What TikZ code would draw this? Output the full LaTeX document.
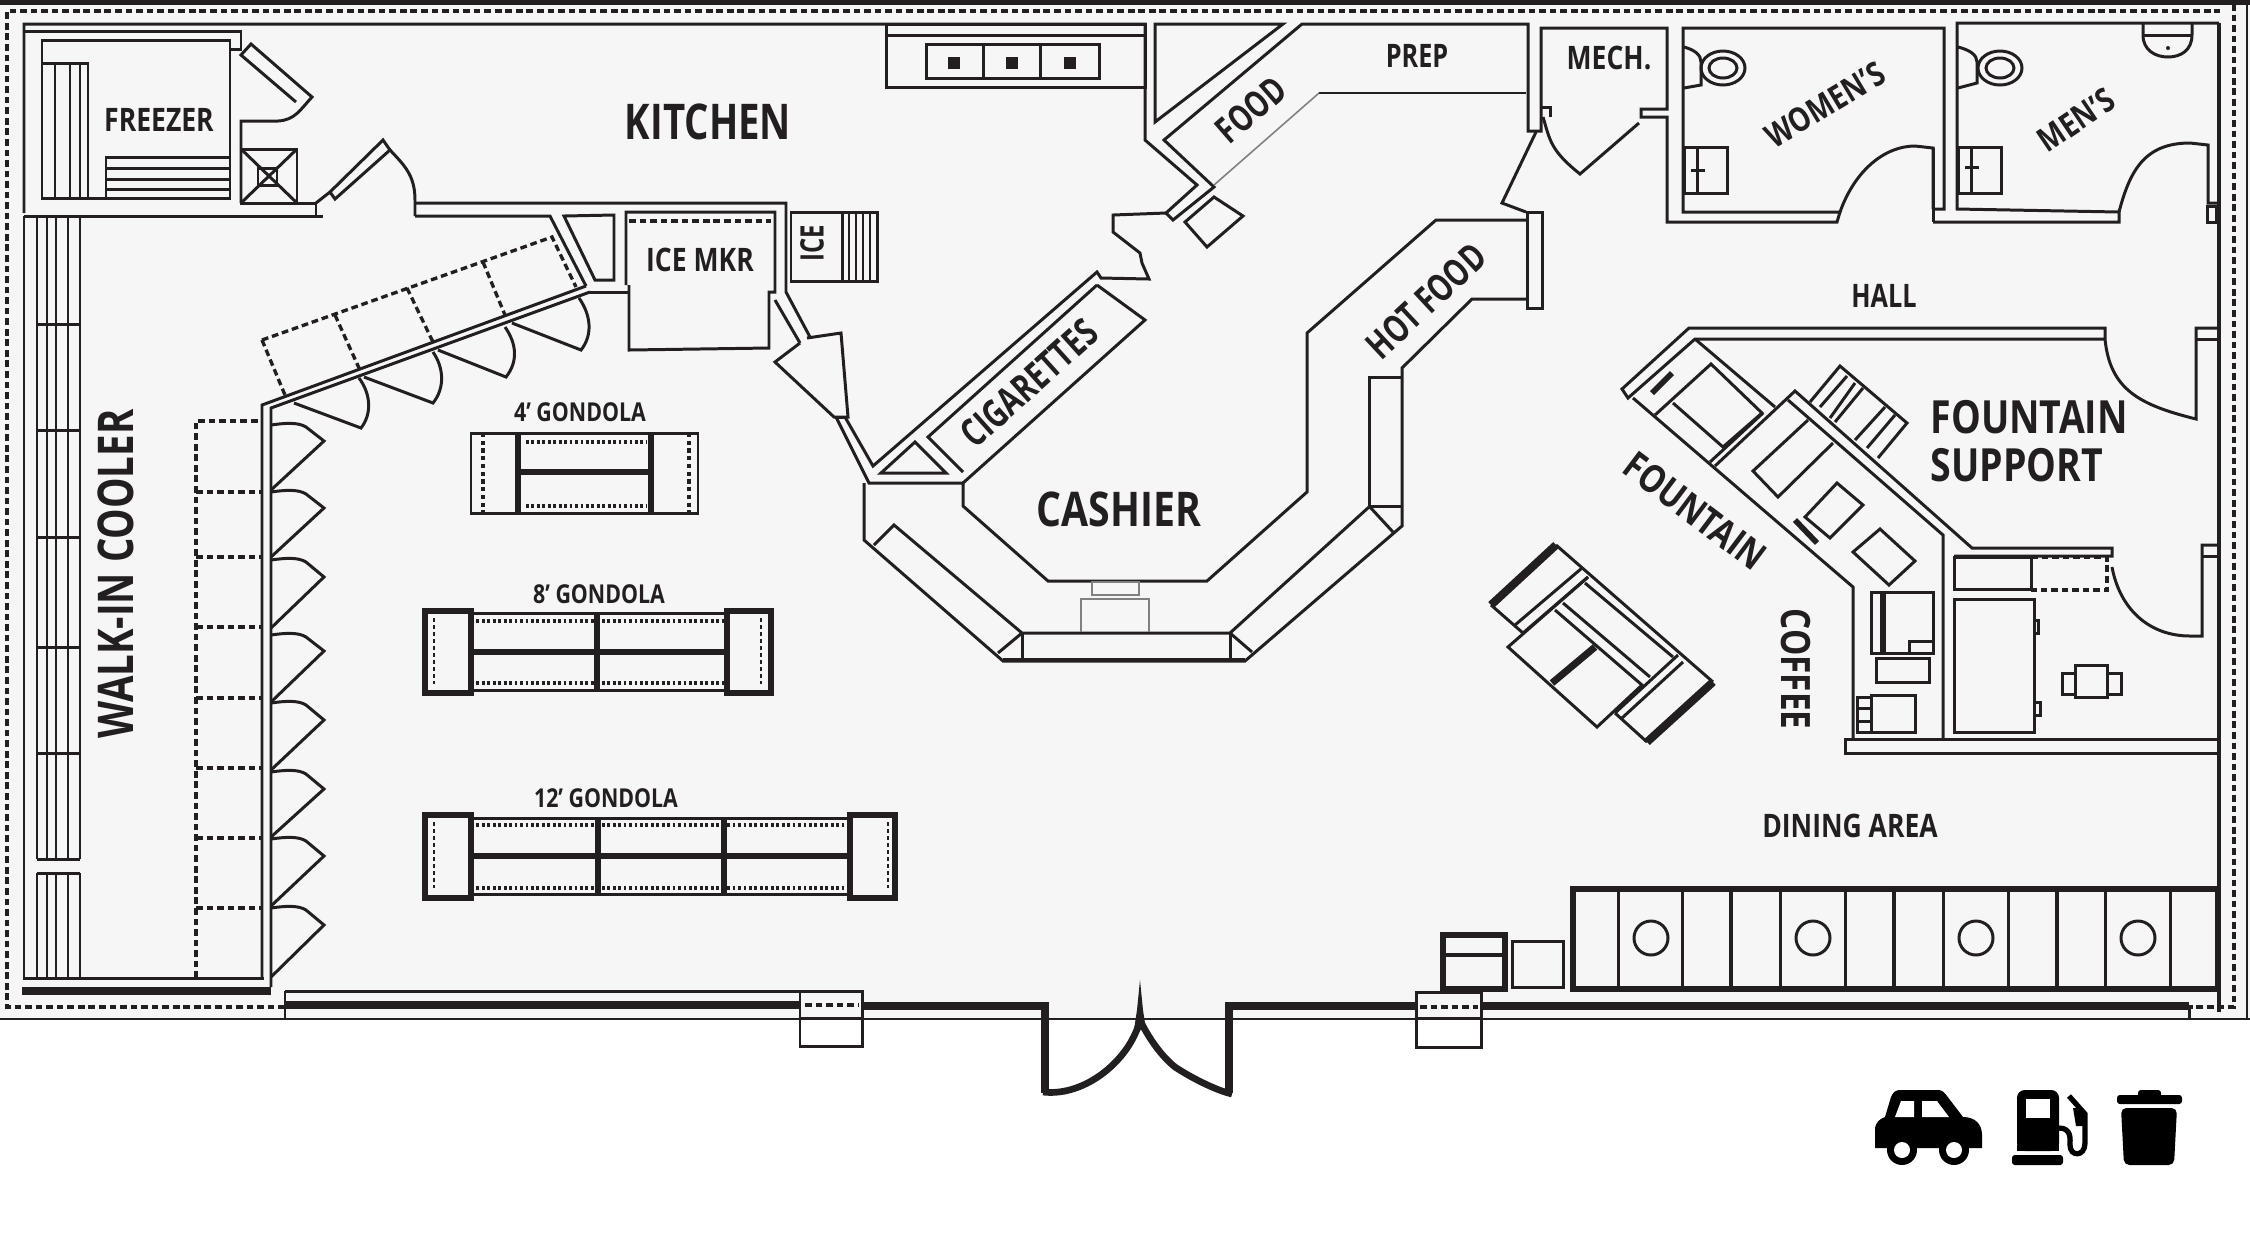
\documentclass[tikz,border=0pt]{standalone}
\usepackage{fontspec}
\newfontfamily\lab[FakeStretch=0.74]{Open Sans Bold}
\newfontfamily\labB[FakeStretch=0.78]{Open Sans Bold}
\newfontfamily\labC[FakeStretch=0.82]{Open Sans Bold}
\definecolor{ink}{HTML}{231F20}
\definecolor{floorgray}{HTML}{F6F6F6}
\definecolor{reggray}{HTML}{808080}
\tikzset{
  wall/.style={draw=ink,line width=0.85pt,line join=miter},
  thinw/.style={draw=ink,line width=0.6pt},
  hair/.style={draw=reggray,line width=0.45pt},
  heavy/.style={draw=ink,line width=1.6pt},
  fat/.style={draw=ink,line width=2.3pt},
  dash1/.style={draw=ink,line width=0.95pt,dash pattern=on 1.9pt off 1.1pt},
  dot1/.style={draw=ink,line width=1pt,dash pattern=on 0.8pt off 0.75pt},
  txt/.style={text=ink,inner sep=0pt,font=\lab},
}
\newcommand{\fsz}[1]{\fontsize{#1}{#1}\selectfont}
\begin{document}
\begin{tikzpicture}[x=0.01cm,y=-0.01cm]
\useasboundingbox (0,0) rectangle (2250,1250);
\fill[white] (0,0) rectangle (2250,1250);
\fill[floorgray] (0,0) rectangle (2250,1020);

% outer shell
\draw[draw=ink,line width=1.5pt] (0,2) -- (2250,2);
\draw[thinw] (0,1019) -- (2250,1019);
\draw[thinw] (2247,2) -- (2247,1019);
\draw[dash1] (285,1007) -- (7,1007) -- (7,11) -- (2220,11);
\draw[dash1] (2234,4) -- (2234,1007) -- (2189,1007);

% north-west walls
\draw[wall] (24,213) -- (24,24) -- (1145,24) -- (1145,140) -- (1197,185) -- (1166,213) -- (1173,220) -- (1214,187) -- (1164,140) -- (1302,24) -- (1528,24) -- (1528,131) -- (1541,131) -- (1541,28) -- (1667,28) -- (1667,109) -- (1641,109) -- (1641,117) -- (1667,117) -- (1667,222) -- (1837,222) -- (1840,212) -- (1683,212) -- (1683,28) -- (1944,28) -- (1944,209) -- (1933,209);
\draw[wall] (1155,24) -- (1283,24) -- (1155,122) -- cycle;
\draw[wall] (24,31) -- (241,31) -- (241,49) -- (230,49);
\draw[wall] (42,40) rectangle (230,198);
\draw[wall] (42,63) rectangle (88,198);
\foreach \q in {55,70,80} \draw[thinw] (\q,63) -- (\q,198);
\draw[wall] (106,157) rectangle (230,198);
\foreach \q in {168,179,189} \draw[wall] (106,\q) -- (230,\q);
% freezer door
\draw[wall] (296,102) -- (241,55) -- (251,44) -- (312,97) .. controls (300,110) and (295,120) .. (278,121) -- (241,121) -- (241,203);
\draw[wall] (241,149) rectangle (297,203);
\draw[wall] (241,149) -- (297,203) (297,149) -- (241,203);
\draw[wall] (258,168) rectangle (277,185);
\draw[wall] (241,203) -- (316,203) -- (316,217);
\draw[wall] (24,216) -- (323,216);
% kitchen door
\draw[wall] (316,203) -- (330,192) -- (383,140) -- (390,150) -- (335,199) -- (330,192);
\draw[wall] (390,150) .. controls (404,165) and (415,175) .. (415,200) -- (415,216);
\draw[wall] (415,203) -- (786,203) -- (786,292) -- (810,337);
\draw[wall] (415,216) -- (550,216) -- (586,286);
\draw[wall] (564,216) -- (595,280) -- (614,280) -- (614,215) -- cycle;
% ice maker
\draw[wall] (626,285) -- (626,212) -- (775,212) -- (775,292) -- (769,292) -- (769,348) -- (629,350) -- (629,285);
\draw[dash1] (629,221) -- (771,221);
\draw[wall] (590,292) -- (629,292);
\draw[wall] (775,300) -- (800,343);
% ice bin
\draw[wall] (791,212) rectangle (877,281);
\draw[wall] (842,212) -- (842,281);
\foreach \q in {849,856,863,870} \draw[hair,draw=ink] (\q,212) -- (\q,281);
% diagonal cooler wall
\draw[wall] (262,978) -- (262,405) -- (586,286);
\draw[wall] (271,987) -- (271,408) -- (590,292);
\draw[dash1] (262,340) -- (552,237) -- (576,287);
\draw[dash1] (262,340) -- (285,395);
\draw[dash1] (335,315) -- (359,368) (407,288) -- (433,342) (483,262) -- (505,315);
% diagonal doors
\draw[wall] (579,298) .. controls (591,315) and (593,335) .. (581,350) -- (512,323);
\draw[wall] (505,327) .. controls (517,344) and (518,362) .. (506,377) -- (438,350);
\draw[wall] (433,352) .. controls (444,368) and (445,388) .. (433,403) -- (364,377);
\draw[wall] (359,378) .. controls (371,394) and (372,414) .. (361,428) -- (294,403);
% walk-in cooler
\draw[wall] (24,216) -- (24,978) -- (264,978);
\foreach \q in {37,47,56,68,80} {\draw[thinw] (\q,216) -- (\q,859); \draw[thinw] (\q,873) -- (\q,978);}
\draw[wall] (37,216) -- (80,216);
\foreach \q in {324,430,537,647,753,859,873} \draw[wall] (37,\q) -- (80,\q);
\draw[fat] (22,991) -- (271,991);
\draw[dash1] (196,978) -- (196,421) -- (262,421);
\foreach \q in {492,557,627,698,768,838,908} \draw[dash1] (196,\q) -- (262,\q);
\foreach \a/\b/\c in {425/441/490,492/508/557,560/577/628,635/651/702,703/720/770,772/789/837,839/856/906,908/925/977}
  \draw[wall] (271,\a) .. controls (285,\a-2) and (298,\a-3) .. (306,\a+2) -- (324,\b) -- (271,\c);
% gondola 4
\draw[wall] (471,433) rectangle (698,513);
\draw[fat,line width=1.5pt] (518,433) -- (518,513) (651,433) -- (651,513) (518,472) -- (651,472);
\draw[dash1,dash pattern=on 1.2pt off 1pt] (483,433) -- (483,513) (689,433) -- (689,513);
\draw[dot1] (526,442) -- (646,442) (526,506) -- (646,506);
% gondola 8
\draw[fat,line width=1.8pt] (425,611) rectangle (471,693) (727,611) rectangle (771,693);
\draw[wall] (471,613) -- (727,613) (471,690) -- (727,690);
\draw[dot1] (471,621) -- (725,621) (471,683) -- (725,683);
\draw[heavy] (471,652) -- (725,652) (597,613) -- (597,692);
\draw[dash1,line width=0.6pt,dash pattern=on 1pt off 1pt] (434,618) -- (434,684) (761,618) -- (761,684);
% gondola 12
\draw[fat,line width=1.8pt] (425,815) rectangle (471,898) (850,815) rectangle (895,898);
\draw[wall] (471,818) -- (850,818) (471,894) -- (850,894);
\draw[dot1] (471,825) -- (848,825) (471,888) -- (848,888);
\draw[heavy] (471,856) -- (848,856) (598,818) -- (598,895) (724,818) -- (724,895);
\draw[dash1,line width=0.6pt,dash pattern=on 1pt off 1pt] (434,822) -- (434,888) (888,822) -- (888,888);
% range hood
\draw[wall] (886,24) rectangle (1145,87);
\draw[wall] (886,35) -- (1145,35);
\draw[wall] (926,44) rectangle (1099,78);
\draw[wall] (983,44) -- (983,78) (1040,44) -- (1040,78);
\foreach \q in {954,1012,1070} \fill[ink] (\q-6,57) rectangle (\q+6,69);
% food prep
\draw[hair] (1214,185) -- (1319,93);
\draw[wall,line width=0.55pt] (1319,93) -- (1526,93);
\draw[wall] (1214,197) -- (1243,216) -- (1207,247) -- (1185,222) -- cycle;
% cashier back wall
\draw[wall] (1166,213) -- (1113,215) -- (1113,232) -- (1140,253) -- (1142,263) -- (1149,279) -- (1101,278) -- (1097,272) -- (873,466) -- (845,417);
\draw[wall] (836,417) -- (869,483) -- (963,483) -- (963,506) -- (1048,581) -- (1207,581) -- (1307,492) -- (1307,333) -- (1436,220) -- (1526,220);
\draw[wall] (1097,285) -- (1145,320) -- (963,483);
\draw[wall] (963,472) -- (928,437) -- (1097,285);
\draw[wall] (915,442) -- (881,473) -- (946,473) -- cycle;
% cone
\draw[wall] (800,343) -- (775,362) -- (834,417) -- (848,417) -- (841,333) -- (807,338);
\draw[wall] (836,417) -- (845,417);
% hot food wall
\draw[wall] (1527,212) rectangle (1542,308);
\draw[wall] (1526,299) -- (1472,299) -- (1402,368) -- (1402,526) -- (1395,532) -- (1245,661) -- (1003,661) -- (864,540) -- (864,483);
\draw[wall] (1369,506) -- (1369,377) -- (1402,377);
\draw[wall] (1369,506) -- (1402,506);
\draw[wall] (1369,506) -- (1393,532);
\draw[wall] (1369,507) -- (1230,633) -- (1022,633) -- (894,525) -- (874,545);
\draw[wall] (1022,633) -- (998,653);
\draw[wall] (1230,633) -- (1252,652);
\draw[wall] (1230,633) -- (1230,660) (1022,633) -- (1022,660);
\draw[wall] (1003,659) -- (1245,659);
\draw[hair,line width=0.7pt] (1092,582) rectangle (1139,595);
\draw[hair,line width=0.7pt] (1081,632) -- (1081,599) -- (1149,599) -- (1149,632);
% mech doors
\draw[wall] (1541,107) -- (1550,107) -- (1550,117);
\draw[wall] (1543,117) .. controls (1550,140) and (1550,150) .. (1580,174) -- (1639,123);
\draw[wall] (1536,132) -- (1502,203) -- (1526,212);
% women's
\draw[wall] (1933,209) -- (1933,148) -- (1915,146) .. controls (1885,146) and (1855,170) .. (1840,212);
\draw[wall] (1933,148) -- (1933,222);
\draw[wall] (1684,47) .. controls (1695,50) and (1701,55) .. (1701,62) -- (1701,85) -- (1684,88);
\draw[wall] (1723,68) ellipse [x radius=22,y radius=17];
\draw[wall] (1723,68) ellipse [x radius=14,y radius=10];
\draw[wall] (1684,147) rectangle (1727,193);
\draw[wall] (1697,147) -- (1697,193) (1691,170) -- (1705,170);
% men's
\draw[wall] (2219,23) -- (1957,23) -- (1957,209) -- (2119,212) -- (2119,222) -- (1933,222);
\draw[wall] (2119,212) .. controls (2130,170) and (2145,143) .. (2190,143) -- (2208,145) -- (2208,203) -- (2219,203);
\draw[wall] (2207,206) rectangle (2216,222);
\draw[wall] (1958,47) .. controls (1970,50) and (1977,55) .. (1977,62) -- (1977,83) -- (1958,88);
\draw[wall] (2000,68) ellipse [x radius=22,y radius=17];
\draw[wall] (2000,68) ellipse [x radius=14,y radius=10];
\draw[wall] (1958,147) rectangle (2001,193);
\draw[wall] (1971,147) -- (1971,193) (1965,167) -- (1979,167);
\draw[wall] (2143,24) -- (2143,35) .. controls (2143,50) and (2155,57) .. (2168,57) .. controls (2181,57) and (2192,50) .. (2192,35) -- (2192,24);
\draw[wall] (2143,35) -- (2192,35);
\fill[ink] (2168,48) circle [radius=2];
\draw[fat,line width=1.4pt] (2219,23) -- (2219,1012);
% fountain support walls
\draw[wall] (2105,339) -- (2105,328) -- (1689,328) -- (1622,389) -- (1628,398) -- (1695,339) -- (2105,339);
\draw[wall] (2105,339) .. controls (2110,390) and (2140,405) .. (2196,419) -- (2196,328) -- (2217,328);
\draw[wall] (2196,339) -- (2217,339);
\draw[wall] (1695,339) -- (1775,407);
\draw[wall] (1633,398) -- (1853,587) -- (1853,738);
\draw[heavy] (1672,373) -- (1652,393);
\draw[wall] (1655,415) -- (1711,364) -- (1762,413) -- (1723,447) -- (1673,403);
\draw[wall] (1710,462) -- (1763,413);
\draw[wall] (1715,466) -- (1795,391) -- (1972,548) -- (2112,548) -- (2112,556) -- (1954,556);
\draw[wall] (1788,400) -- (1943,535) -- (1943,738);
\draw[wall] (1808,420) -- (1753,471) -- (1778,497) -- (1833,443);
\draw[wall] (1837,483) -- (1863,505) -- (1830,538) -- (1805,517) -- cycle;
\draw[wall] (1880,529) -- (1915,561) -- (1889,585) -- (1853,552) -- cycle;
\draw[heavy] (1795,520) -- (1817,543);
% rack
\draw[wall] (1810,402) -- (1840,366) -- (1907,423) -- (1878,458);
\draw[wall] (1847,376) -- (1820,407) (1855,383) -- (1830,418) (1863,388) -- (1835,422) (1885,407) -- (1855,440) (1895,415) -- (1867,448);
% back room
\draw[wall] (1954,557) rectangle (2031,589);
\draw[dash1] (2031,557) -- (2107,557) -- (2107,590) -- (2031,590);
\draw[wall] (2112,567) .. controls (2120,610) and (2150,636) .. (2190,636) -- (2202,636) -- (2202,545) -- (2217,545);
\draw[wall] (2202,556) -- (2217,556);
\draw[wall] (1954,599) rectangle (2034,732);
\draw[wall] (2034,620) rectangle (2038,633) (2034,702) rectangle (2040,715);
\draw[wall] (2075,665) rectangle (2107,697);
\draw[wall] (2062,673) rectangle (2075,694) (2107,673) rectangle (2121,694);
\draw[wall] (1871,592) rectangle (1933,653);
\draw[heavy] (1883,592) -- (1883,653);
\draw[wall] (1909,641) rectangle (1933,653);
\draw[wall] (1876,658) rectangle (1929,682);
\draw[wall] (1871,695) rectangle (1915,732);
\draw[wall] (1857,697) rectangle (1871,732);
\draw[wall] (1857,708) -- (1871,708) (1857,721) -- (1871,721);
\draw[wall] (1845,739) rectangle (2219,753);
% island
\draw[fat] (1556,545) -- (1491,605);
\draw[fat] (1713,682) -- (1647,742);
\draw[wall] (1556,545) -- (1713,682);
\draw[wall] (1491,605) -- (1523,633);
\draw[wall] (1515,625) -- (1582,568) (1523,633) -- (1588,577);
\draw[wall] (1588,577) -- (1508,647) -- (1597,727) -- (1642,685) -- (1555,610);
\draw[fat,line width=2pt] (1595,647) -- (1552,683);
\draw[wall] (1563,603) -- (1650,677) (1585,583) -- (1673,657);
\draw[wall] (1615,713) -- (1678,655) (1622,718) -- (1683,662);
\draw[wall] (1615,713) -- (1647,742);
% store front
\draw[wall] (285,991) -- (800,991);
\draw[wall] (285,991) -- (285,1020);
\draw[fat,line width=2.3pt] (285,1005) -- (800,1005);
\draw[wall] (800,991) rectangle (862,1046);
\draw[wall] (800,1018) -- (862,1018);
\draw[dash1] (805,1005) -- (858,1005);
\draw[fat,line width=2.3pt,line join=miter] (862,1006) -- (1045,1006) -- (1045,1093);
\draw[fat,line width=2.3pt,line join=miter] (1229,1093) -- (1229,1006) -- (1416,1006);
\draw[fat,line width=1.9pt] (1043,1092) .. controls (1085,1097) and (1130,1060) .. (1140,1020);
\draw[fat,line width=1.9pt] (1232,1094) .. controls (1215,1090) and (1190,1077) .. (1175,1067) .. controls (1160,1055) and (1147,1035) .. (1140,1020);
\fill[ink] (1134,1030) -- (1137,1010) -- (1140,980) -- (1143,1010) -- (1146,1030) -- cycle;
\draw[wall] (1416,992) rectangle (1481,1047);
\draw[wall] (1416,1018) -- (1481,1018);
\draw[dash1] (1420,1007) -- (1478,1007);
\draw[fat,line width=2.3pt] (1481,1006) -- (2189,1006);
\draw[wall] (2189,1005) -- (2189,1019);
% booths
\draw[fat,line width=1.5pt] (1573,889) rectangle (2218,989);
\foreach \q in {1731,1894,2057} \draw[fat,line width=1.3pt] (\q,889) -- (\q,990);
\foreach \q in {1618,1682,1780,1845,1943,2008,2105,2170} \draw[wall] (\q,889) -- (\q,989);
\foreach \q in {1651,1813,1976,2138} \draw[wall] (\q,938) circle [radius=17];
\draw[fat,line width=1.5pt] (1443,935) rectangle (1505,989);
\draw[fat,line width=1.3pt] (1443,955) -- (1505,955);
\draw[wall] (1512,941) rectangle (1563,987);
% icons
\fill[black] (1875,1148) -- (1875,1130) .. controls (1875,1122) and (1880,1119) .. (1885,1117) -- (1891,1097) .. controls (1893,1092) and (1896,1090) .. (1900,1090) -- (1938,1090) .. controls (1942,1090) and (1944,1092) .. (1947,1096) -- (1963,1117) .. controls (1975,1117) and (1982,1124) .. (1982,1135) -- (1982,1148) -- cycle;
\fill[black] (1902,1150) circle [radius=15] (1954,1150) circle [radius=15];
\fill[white] (1902,1150) circle [radius=8] (1954,1150) circle [radius=8];
\fill[white] (1901,1101) -- (1914,1101) -- (1914,1117) -- (1895,1117) -- cycle;
\fill[white] (1922,1101) -- (1937,1101) -- (1949,1117) -- (1922,1117) -- cycle;
\fill[black,rounded corners=2.2pt] (2017,1151) -- (2017,1090) -- (2059,1090) -- (2059,1151) -- cycle;
\fill[black] (2017,1145) rectangle (2059,1151);
\fill[white] (2026,1099) rectangle (2050,1118);
\fill[black,rounded corners=0.8pt] (2012,1155) rectangle (2063,1165);
\draw[black,line width=1.5pt] (2059,1128) .. controls (2072,1128) and (2070,1140) .. (2070,1145) .. controls (2070,1157) and (2085,1157) .. (2085,1143) -- (2085,1114) -- (2069,1096);
\fill[black] (2073,1108) -- (2083,1108) -- (2083,1126) -- (2076,1126) -- cycle;
\fill[black,rounded corners=0.8pt] (2117,1095) rectangle (2182,1104);
\fill[black,rounded corners=0.8pt] (2138,1090) rectangle (2161,1097);
\fill[black,rounded corners=1.5pt] (2121,1108) -- (2177,1108) -- (2174,1165) -- (2124,1165) -- cycle;
% labels
\node[txt,font=\labC\fsz{9.2}] (freezer) at (159,120) {FREEZER};
\node[txt,font=\labB\fsz{14}] (kitchen) at (708,122) {KITCHEN};
\node[txt,font=\labC\fsz{9.2}] (icemkr) at (700,260) {ICE MKR};
\node[txt,font=\lab\fsz{9.2},rotate=90] (ice) at (812,243) {ICE};
\node[txt,font=\lab\fsz{10.5},rotate=41] (food) at (1251,110) {FOOD};
\node[txt,font=\labB\fsz{9.2}] (prep) at (1417,56) {PREP};
\node[txt,font=\labC\fsz{9.2}] (mech) at (1609,58) {MECH.};
\node[txt,font=\labC\fsz{9.5},rotate=31] (womens) at (1825,105) {WOMEN’S};
\node[txt,font=\labC\fsz{9.5},rotate=34] (mens) at (2076,120) {MEN’S};
\node[txt,font=\labB\fsz{9.2}] (hall) at (1884,296) {HALL};
\node[txt,font=\lab\fsz{10.8},rotate=43] (hotfood) at (1426,301) {HOT FOOD};
\node[txt,font=\lab\fsz{11},rotate=42] (cig) at (1029,383) {CIGARETTES};
\node[txt,font=\labC\fsz{13.6}] (cashier) at (1119,509) {CASHIER};
\node[txt,font=\labB\fsz{14},rotate=90] (walkin) at (116,574) {WALK-IN COOLER};
\node[txt,font=\labC\fsz{7.4}] (g4) at (580,412) {4’ GONDOLA};
\node[txt,font=\labC\fsz{7.4}] (g8) at (599,594) {8’ GONDOLA};
\node[txt,font=\labC\fsz{7.4}] (g12) at (606,798) {12’ GONDOLA};
\node[txt,font=\labC\fsz{13},anchor=west] (fs1) at (1930,417) {FOUNTAIN};
\node[txt,font=\labC\fsz{13},anchor=west] (fs2) at (1930,465) {SUPPORT};
\node[txt,font=\labC\fsz{11},rotate=-37] (fountain) at (1695,511) {FOUNTAIN};
\node[txt,font=\labC\fsz{11.5},rotate=-90] (coffee) at (1796,669) {COFFEE};
\node[txt,font=\labC\fsz{9.2}] (dining) at (1850,826) {DINING AREA};
\end{tikzpicture}
\end{document}
